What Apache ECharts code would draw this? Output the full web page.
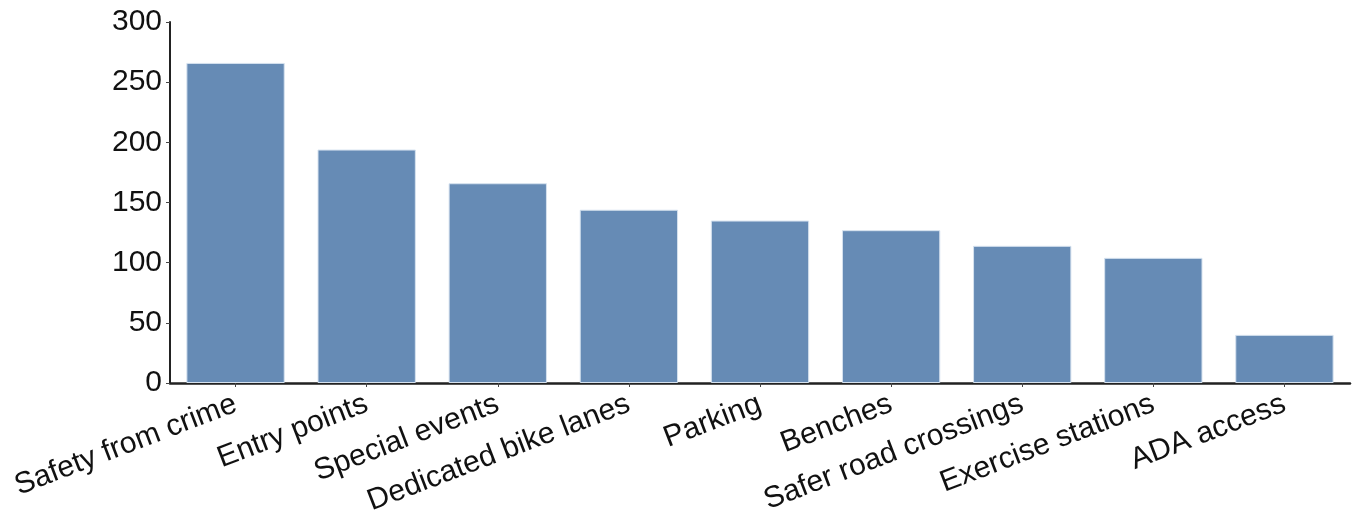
<!DOCTYPE html>
<html>
<head>
<meta charset="utf-8">
<script src="https://cdn.jsdelivr.net/npm/echarts@6/dist/echarts.min.js"></script>
<style>
html,body{margin:0;padding:0;background:#fff;}
#chart{width:1362px;height:518px;}
</style>
</head>
<body>
<div id="chart"></div>
<script>
const categories = ["Safety from crime","Entry points","Special events","Dedicated bike lanes","Parking","Benches","Safer road crossings","Exercise stations","ADA access"];
const values = [266, 194, 166, 144, 135, 127, 114, 104, 40];
const yTicks = [0, 50, 100, 150, 200, 250, 300];

const chart = echarts.init(document.getElementById('chart'), null, {renderer:'canvas'});
chart.setOption({
  backgroundColor: '#ffffff',
  animation: false,
  grid: {left: 170, right: 12, top: 22, bottom: 135},
  xAxis: {
    type: 'category',
    data: categories,
    axisLine: {show: true, lineStyle: {color: '#222222', width: 2.5}},
    axisTick: {show: true, alignWithLabel: true, length: 4, lineStyle: {color: '#444444', width: 1}},
    axisLabel: {rotate: 21, margin: 20, fontSize: 30, fontFamily: 'Liberation Sans, Arial, sans-serif', color: '#111111', interval: 0}
  },
  yAxis: {
    type: 'value',
    min: yTicks[0],
    max: yTicks[yTicks.length - 1],
    interval: 50,
    splitLine: {show: false},
    axisLine: {show: true, lineStyle: {color: '#222222', width: 2}},
    axisTick: {show: true, length: 4, lineStyle: {color: '#444444', width: 1}},
    axisLabel: {margin: 8, fontSize: 30, fontFamily: 'Liberation Sans, Arial, sans-serif', color: '#111111'}
  },
  series: [{
    type: 'bar',
    data: values,
    barCategoryGap: '25%',
    itemStyle: {color: '#668bb5', borderColor: '#d6e2ef', borderWidth: 1}
  }]
});
</script>
</body>
</html>
